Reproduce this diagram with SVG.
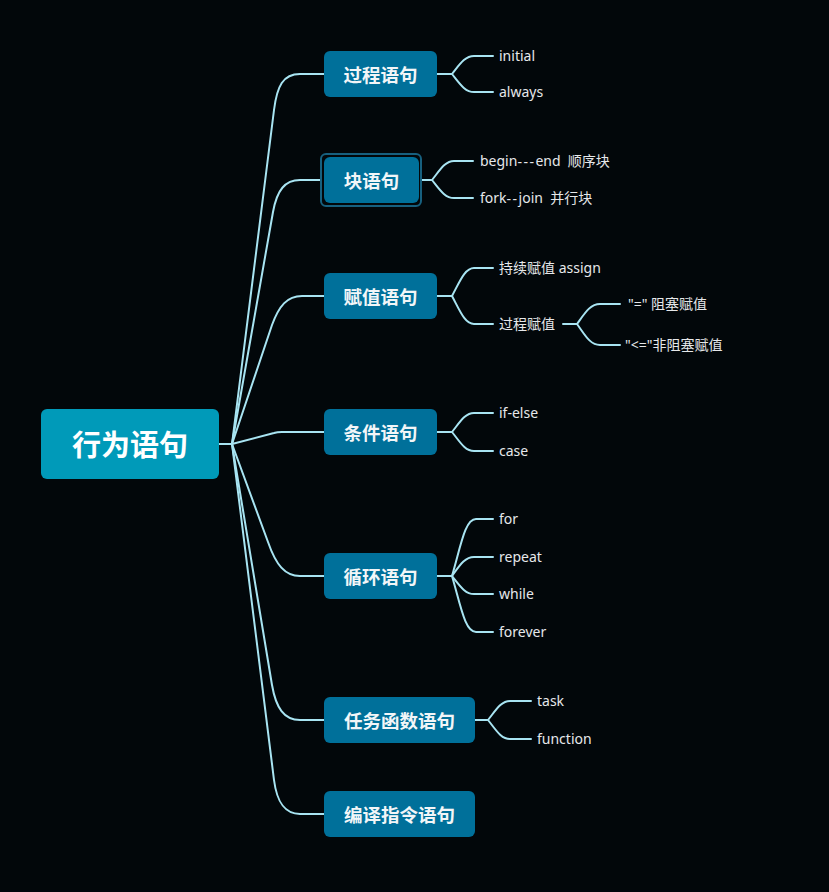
<svg xmlns="http://www.w3.org/2000/svg" width="829" height="892" viewBox="0 0 829 892">
<style>
.bg{fill:#02070a}
.root{fill:#009ab9}
.br{fill:#00709a}
.sel{fill:none;stroke:#17607f;stroke-width:2}
.rt{font-family:"Noto Sans CJK SC","Noto Sans",sans-serif;font-weight:bold;font-size:29px;fill:#ffffff;text-anchor:middle;dominant-baseline:central}
.bt{font-family:"Noto Sans CJK SC","Noto Sans",sans-serif;font-weight:bold;font-size:18.5px;fill:#f2f6f8;text-anchor:middle;dominant-baseline:central}
.lt{font-family:"Noto Sans","Noto Sans CJK SC",sans-serif;font-size:14px;fill:#e6e8ea;dominant-baseline:central;white-space:pre}
.c{fill:none;stroke:#a8e4f2;stroke-width:2;stroke-linecap:round;stroke-linejoin:round}
</style>
<rect class="bg" x="0" y="0" width="829" height="892"/>
<g id="connectors">
<path class="c" d="M219,444 H232"/>
<path class="c" d="M232,444 L274,110 C277,86 283,74 300,74 H324"/>
<path class="c" d="M232,444 L273,212 C277,190 285,180 300,180 H321"/>
<path class="c" d="M232,444 L272,325 C279,306 287,296 302,296 H324"/>
<path class="c" d="M232,444 L274,433 C277,432 279,432 282,432 H324"/>
<path class="c" d="M232,444 L268,542 C276,565 285,576 300,576 H324"/>
<path class="c" d="M232,444 L272,685 C276,708 284,720 300,720 H324"/>
<path class="c" d="M232,444 L274,780 C277,803 285,814 300,814 H324"/>
<path class="c" d="M437,74 H452"/>
<path class="c" d="M452,74 C460,64 465,56 474,56 H493"/>
<path class="c" d="M452,74 C460,84 465,92 474,92 H493"/>
<path class="c" d="M421,180 H432"/>
<path class="c" d="M432,180 C440,170 445,161 454,161 H473"/>
<path class="c" d="M432,180 C440,190 445,198 454,198 H473"/>
<path class="c" d="M437,296 H452"/>
<path class="c" d="M452,296 C460,281 465,268 474,268 H493"/>
<path class="c" d="M452,296 C460,311 465,324 474,324 H493"/>
<path class="c" d="M563,324 H577"/>
<path class="c" d="M577,324 C585,313 590,304 600,304 H620"/>
<path class="c" d="M577,324 C585,335 590,345 600,345 H620"/>
<path class="c" d="M437,432 H452"/>
<path class="c" d="M452,432 C460,422 465,413 474,413 H493"/>
<path class="c" d="M452,432 C460,442 465,451 474,451 H493"/>
<path class="c" d="M437,576 H452"/>
<path class="c" d="M452,576 C461,545 465,519 476,519 H493"/>
<path class="c" d="M452,576 C460,565 465,557 474,557 H493"/>
<path class="c" d="M452,576 C460,586 465,594 474,594 H493"/>
<path class="c" d="M452,576 C461,607 465,632 476,632 H493"/>
<path class="c" d="M475,720 H488"/>
<path class="c" d="M488,720 C496,710 501,701 510,701 H531"/>
<path class="c" d="M488,720 C496,730 501,739 510,739 H531"/>
</g>
<g id="root">
<rect class="root" x="41" y="409" width="178" height="70" rx="6"/>
<text class="rt" x="130" y="443">行为语句</text>
</g>
<g id="n-guocheng">
<rect class="br" x="324" y="51" width="113" height="46" rx="6"/>
<text class="bt" x="380.5" y="73.5">过程语句</text>
</g>
<g id="leaf-initial"><text class="lt" x="499" y="55.5">initial</text></g>
<g id="leaf-always"><text class="lt" x="499" y="91.5">always</text></g>
<g id="n-kuai">
<rect class="sel" x="321" y="154" width="100" height="52" rx="5"/>
<rect class="br" x="324" y="157" width="95" height="46" rx="6"/>
<text class="bt" x="371.5" y="179.5">块语句</text>
</g>
<g id="leaf-begin"><text class="lt" x="480" y="160.5">begin<tspan letter-spacing="1.5">---</tspan>end  顺序块</text></g>
<g id="leaf-fork"><text class="lt" x="480" y="197.5">fork<tspan letter-spacing="1.5">--</tspan>join  并行块</text></g>
<g id="n-fuzhi">
<rect class="br" x="324" y="273" width="113" height="46" rx="6"/>
<text class="bt" x="380.5" y="295.5">赋值语句</text>
</g>
<g id="leaf-assign"><text class="lt" x="499" y="267.5">持续赋值 assign</text></g>
<g id="leaf-guochengfuzhi"><text class="lt" x="499" y="323.5">过程赋值</text></g>
<g id="leaf-block"><text class="lt" x="628" y="303.5">"=" 阻塞赋值</text></g>
<g id="leaf-nonblock"><text class="lt" x="625" y="344.5">"&lt;="非阻塞赋值</text></g>
<g id="n-tiaojian">
<rect class="br" x="324" y="409" width="113" height="46" rx="6"/>
<text class="bt" x="380.5" y="431.5">条件语句</text>
</g>
<g id="leaf-ifelse"><text class="lt" x="499" y="412.5">if-else</text></g>
<g id="leaf-case"><text class="lt" x="499" y="450.5">case</text></g>
<g id="n-xunhuan">
<rect class="br" x="324" y="553" width="113" height="46" rx="6"/>
<text class="bt" x="380.5" y="575.5">循环语句</text>
</g>
<g id="leaf-for"><text class="lt" x="499" y="518.5">for</text></g>
<g id="leaf-repeat"><text class="lt" x="499" y="556.5">repeat</text></g>
<g id="leaf-while"><text class="lt" x="499" y="593.5">while</text></g>
<g id="leaf-forever"><text class="lt" x="499" y="631.5">forever</text></g>
<g id="n-renwu">
<rect class="br" x="324" y="697" width="151" height="46" rx="6"/>
<text class="bt" x="399.5" y="719.5">任务函数语句</text>
</g>
<g id="leaf-task"><text class="lt" x="537" y="700.5">task</text></g>
<g id="leaf-function"><text class="lt" x="537" y="738.5">function</text></g>
<g id="n-bianyi">
<rect class="br" x="324" y="791" width="151" height="46" rx="6"/>
<text class="bt" x="399.5" y="813.5">编译指令语句</text>
</g>
</svg>
